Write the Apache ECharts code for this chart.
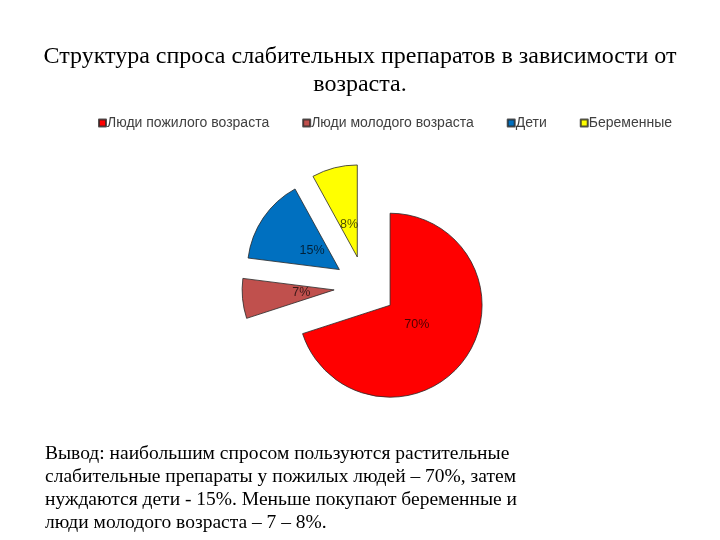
<!DOCTYPE html>
<html><head><meta charset="utf-8">
<script src="https://cdn.jsdelivr.net/npm/echarts@6/dist/echarts.min.js"></script>
<style>html,body{margin:0;padding:0;background:#fff}#c{width:720px;height:540px}</style>
</head><body><div id="c"></div>
<script>
const categories = ['Люди пожилого возраста', 'Люди молодого возраста', 'Дети', 'Беременные'];
const values = [70, 7, 15, 8];
const colors = ['#FF0000', '#C0504D', '#0070C0', '#FFFF00'];
const titleText = 'Структура спроса слабительных препаратов в зависимости от\nвозраста.';
const conclusionText = 'Вывод: наибольшим спросом пользуются растительные\nслабительные препараты у пожилых людей – 70%, затем\nнуждаются дети - 15%. Меньше покупают беременные и\nлюди молодого возраста – 7 – 8%.';

const chart = echarts.init(document.getElementById('c'));
const mainData = categories.map((n, i) => ({name: n, value: values[i], selected: true, itemStyle: {color: colors[i]}}));
const labelData = categories.map((n, i) => ({name: n, value: values[i], selected: true}));
chart.setOption({
  animation: false,
  title: [
    {text: titleText, left: 'center', top: 38, textStyle: {fontFamily: 'Liberation Serif', fontSize: 24, fontWeight: 'normal', color: '#000', lineHeight: 28}},
    {text: conclusionText, left: 40, top: 437, textStyle: {fontFamily: 'Liberation Serif', fontSize: 19.5, fontWeight: 'normal', color: '#000', lineHeight: 23}}
  ],
  legend: {
    data: categories, top: 111, left: 93, icon: 'rect', itemWidth: 7, itemHeight: 7, itemGap: 33,
    textStyle: {fontFamily: 'Liberation Sans', fontSize: 14, color: '#404040', padding: [0,0,0,-4]},
    selectedMode: false
  },
  series: [
    {
      type: 'pie', center: [365, 287], radius: 92, startAngle: 90, clockwise: true,
      selectedMode: 'multiple', selectedOffset: 31, silent: true,
      itemStyle: {borderColor: 'rgba(40,40,40,0.8)', borderWidth: 1},
      label: {show: false}, labelLine: {show: false},
      emphasis: {disabled: true},
      data: mainData
    },
    {
      type: 'pie', center: [365, 287], radius: 60, startAngle: 90, clockwise: true,
      selectedMode: 'multiple', selectedOffset: 31, silent: true, legendHoverLink: false,
      itemStyle: {color: 'rgba(0,0,0,0)', borderWidth: 0},
      label: {show: true, position: 'inside', formatter: '{c}%', fontFamily: 'Liberation Sans', fontSize: 12.5, color: 'rgba(0,0,0,0.7)'},
      labelLine: {show: false},
      emphasis: {disabled: true},
      data: labelData
    }
  ]
});
</script></body></html>
